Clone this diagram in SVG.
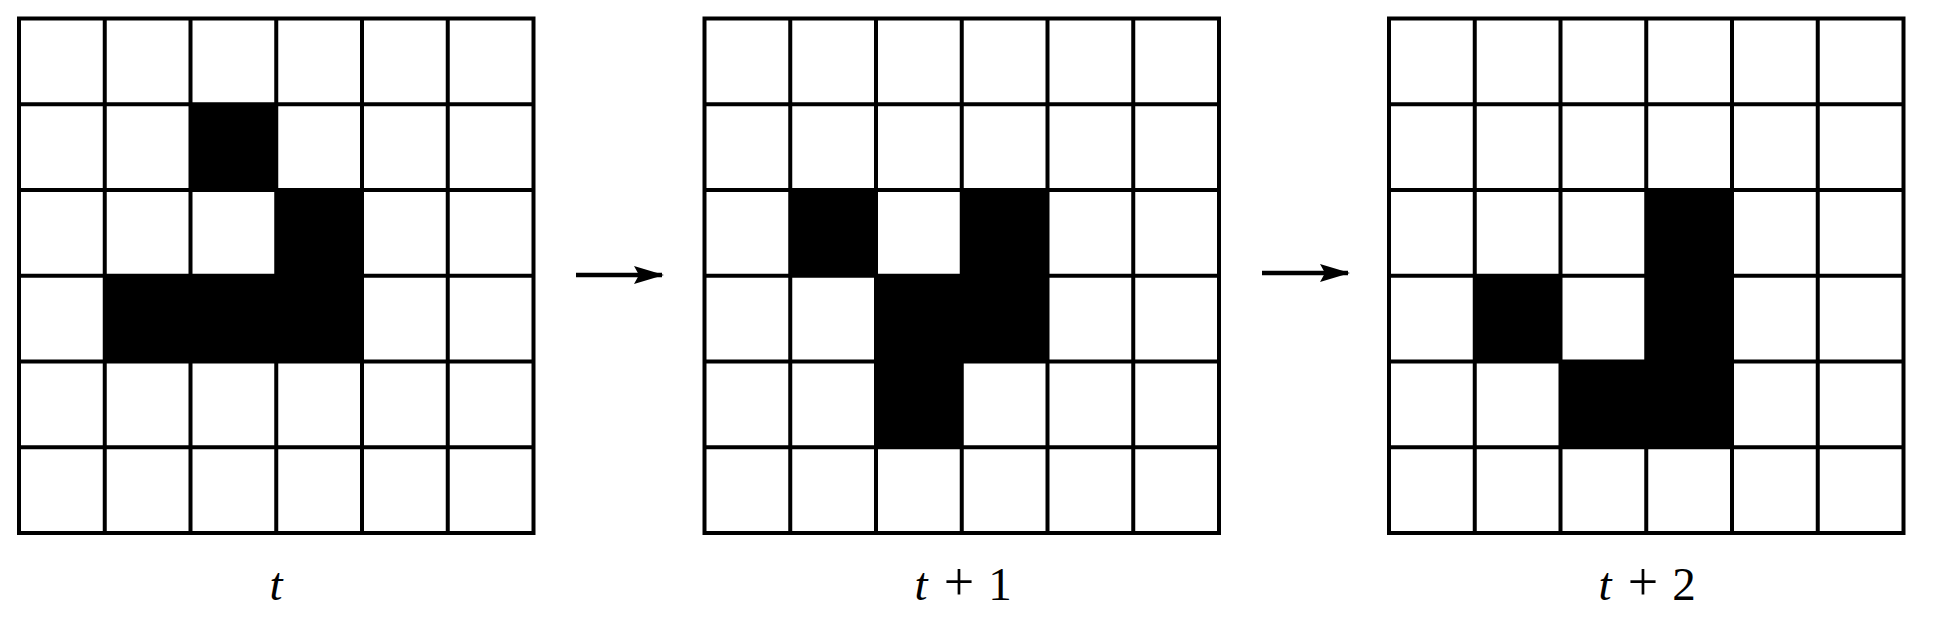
<svg xmlns="http://www.w3.org/2000/svg" width="1935" height="626" viewBox="0 0 1935 626">
<style>
.cell{fill:#000}
.grid{fill:none;stroke:#000;stroke-width:4}
.lbl{font-family:"Liberation Serif","DejaVu Serif",serif;font-size:47px;fill:#000;text-anchor:middle}
.it{font-style:italic}
.op{font-size:54px}
.conn{stroke:#000;stroke-width:4.5;fill:none}
</style>
<defs>
<marker id="ah" markerWidth="30" markerHeight="20" refX="28" refY="10" orient="auto" markerUnits="userSpaceOnUse" overflow="visible">
<path d="M0,1 L30,10 L0,19 L5,10 Z" fill="#000"/>
</marker>
<g id="lines">
<rect x="0" y="0" width="514.5" height="514.5" class="grid"/>
<path class="grid" d="M85.75,0V514.5M171.5,0V514.5M257.25,0V514.5M343,0V514.5M428.75,0V514.5M0,85.75H514.5M0,171.5H514.5M0,257.25H514.5M0,343H514.5M0,428.75H514.5"/>
</g>
</defs>
<rect width="1935" height="626" fill="#fff"/>
<g id="grid-t" transform="translate(19,18.5)">
<rect class="cell" x="171.5" y="85.75" width="85.75" height="85.75"/>
<rect class="cell" x="257.25" y="171.5" width="85.75" height="85.75"/>
<rect class="cell" x="85.75" y="257.25" width="257.25" height="85.75"/>
<use href="#lines"/>
</g>
<g id="grid-t1" transform="translate(704.5,18.5)">
<rect class="cell" x="85.75" y="171.5" width="85.75" height="85.75"/>
<rect class="cell" x="257.25" y="171.5" width="85.75" height="85.75"/>
<rect class="cell" x="171.5" y="257.25" width="171.5" height="85.75"/>
<rect class="cell" x="171.5" y="343" width="85.75" height="85.75"/>
<use href="#lines"/>
</g>
<g id="grid-t2" transform="translate(1389,18.5)">
<rect class="cell" x="257.25" y="171.5" width="85.75" height="171.5"/>
<rect class="cell" x="85.75" y="257.25" width="85.75" height="85.75"/>
<rect class="cell" x="171.5" y="343" width="171.5" height="85.75"/>
<use href="#lines"/>
</g>
<g id="connectors">
<line class="conn" x1="576" y1="275" x2="662" y2="275" marker-end="url(#ah)"/>
<line class="conn" x1="1262" y1="273" x2="1348" y2="273" marker-end="url(#ah)"/>
</g>
<g id="labels">
<text class="lbl" x="276" y="600"><tspan class="it">t</tspan></text>
<text class="lbl" y="600"><tspan class="it" x="921">t</tspan><tspan class="op" x="959">+</tspan><tspan x="1000">1</tspan></text>
<text class="lbl" y="600"><tspan class="it" x="1605">t</tspan><tspan class="op" x="1643">+</tspan><tspan x="1684">2</tspan></text>
</g>
</svg>
